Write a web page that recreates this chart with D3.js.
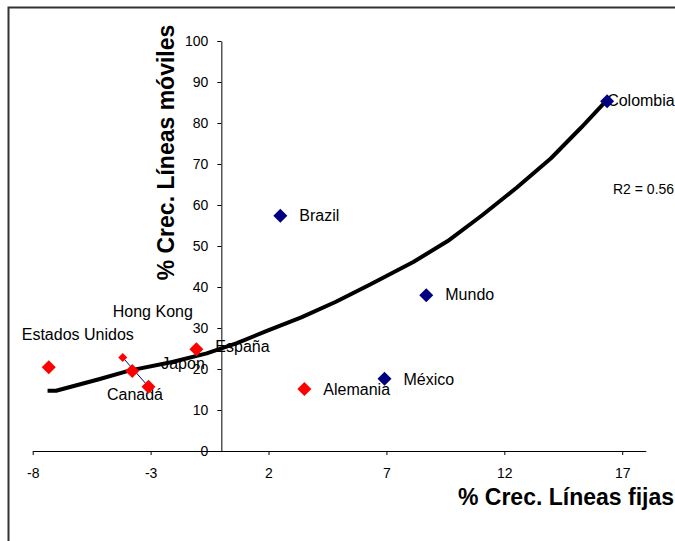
<!DOCTYPE html>
<html>
<head>
<meta charset="utf-8">
<script src="https://cdn.jsdelivr.net/npm/d3@7/dist/d3.min.js"></script>
<style>
  html, body { margin: 0; padding: 0; background: #fff; }
  svg { display: block; font-family: "Liberation Sans", Arial, sans-serif; }
</style>
</head>
<body>
<svg id="chart" width="675" height="541"></svg>
<script>
// ---- Data ----
const countries    = ["Estados Unidos", "Hong Kong", "Japon", "Canadá", "España", "Alemania", "Brazil", "México", "Mundo", "Colombia"];
const fixedGrowth  = [-7.32, -4.18, -3.78, -3.09, -1.06, 3.52, 2.50, 6.92, 8.69, 16.36];
const mobileGrowth = [20.4, 22.8, 19.5, 15.7, 24.8, 15.1, 57.4, 17.6, 38.0, 85.3];
const groups       = ["des", "des", "des", "des", "des", "des", "emer", "emer", "emer", "emer"];

// trend line
const trendX = [-7.37, -7.01, -5.19, -3.91, -2.08, -0.62, 0.66, 1.93, 3.39, 4.86, 6.31, 8.14, 9.60, 11.06, 12.52, 13.98, 15.26, 16.30];
const trendY = [14.7, 14.7, 17.5, 19.6, 21.7, 23.8, 26.3, 29.3, 32.6, 36.4, 40.6, 46.1, 51.2, 57.5, 64.2, 71.4, 78.9, 85.3];

const xTicks = [-8, -3, 2, 7, 12, 17];
const yTicks = [0, 10, 20, 30, 40, 50, 60, 70, 80, 90, 100];
const r2Text = "R2 = 0.56";

// ---- Layout (label offsets from marker, px) ----
const labelDX = [-27, -10, 29, -41.5, 19, 19, 19, 19, 19, 0];
const labelDY = [-27.5, -40.5, -2, 13.5, 3, 6, 5, 6, 5, 5];

const svg = d3.select("#chart");
const x = d3.scaleLinear().domain([-8, 18]).range([32.7, 645.8]);
const y = d3.scaleLinear().domain([0, 100]).range([451, 41]);
const color = d3.scaleOrdinal().domain(["des", "emer"]).range(["#ff0000", "#000080"]);

// frame
svg.append("path")
  .attr("d", "M8.5,541 L8.5,7.5 L675,7.5")
  .attr("fill", "none").attr("stroke", "#333").attr("stroke-width", 2);

// x axis
const xAxis = svg.append("g")
  .attr("transform", `translate(0,${y(0)})`)
  .call(d3.axisBottom(x).tickValues(xTicks).tickSize(4).tickSizeOuter(0).tickFormat(d => String(d)));
xAxis.attr("font-size", null).attr("font-family", null);
xAxis.select(".domain").attr("stroke", "#000");
xAxis.selectAll(".tick line").attr("stroke", "#000");
xAxis.selectAll(".tick text").attr("font-size", 14)
  .attr("fill", "#000").attr("dy", 0).attr("y", 27);

// y axis
const yAxis = svg.append("g")
  .attr("transform", `translate(${x(0)},0)`)
  .call(d3.axisLeft(y).tickValues(yTicks).tickSize(4).tickSizeOuter(0));
yAxis.attr("font-size", null).attr("font-family", null);
yAxis.select(".domain").attr("stroke", "#000");
yAxis.selectAll(".tick line").attr("stroke", "#000");
yAxis.selectAll(".tick text").attr("font-size", 14)
  .attr("fill", "#000").attr("x", -13);

// axis titles
svg.append("text")
  .attr("transform", "translate(174,152.5) rotate(-90)")
  .attr("text-anchor", "middle")
  .attr("font-size", 23).attr("font-weight", "bold")
  .text("% Crec. Líneas móviles");
svg.append("text")
  .attr("x", 674).attr("y", 505)
  .attr("text-anchor", "end")
  .attr("font-size", 23).attr("font-weight", "bold")
  .text("% Crec. Líneas fijas");

const idx = d3.range(countries.length);

// leader line Hong Kong -> Canadá
const iHK = countries.indexOf("Hong Kong"), iCA = countries.indexOf("Canadá");
svg.append("line")
  .attr("x1", x(fixedGrowth[iHK])).attr("y1", y(mobileGrowth[iHK]))
  .attr("x2", x(fixedGrowth[iCA])).attr("y2", y(mobileGrowth[iCA]))
  .attr("stroke", "#000080").attr("stroke-width", 1);

// labels
svg.append("g").selectAll("text").data(idx).join("text")
  .attr("x", i => x(fixedGrowth[i]) + labelDX[i])
  .attr("y", i => y(mobileGrowth[i]) + labelDY[i])
  .attr("font-size", 16).attr("fill", "#000")
  .text(i => countries[i]);

// trend line
const line = d3.line().x(d => x(d[0])).y(d => y(d[1])).curve(d3.curveLinear);
svg.append("path")
  .datum(trendX.map((v, i) => [v, trendY[i]]))
  .attr("d", line)
  .attr("fill", "none").attr("stroke", "#000").attr("stroke-width", 4)
  .attr("stroke-linejoin", "round");

// markers
svg.append("g").selectAll("path").data(idx).join("path")
  .attr("transform", i => `translate(${x(fixedGrowth[i])},${y(mobileGrowth[i])})`)
  .attr("d", i => {
    const r = countries[i] === "Hong Kong" ? 4.5 : 7;
    return `M0,${-r}L${r},0L0,${r}L${-r},0Z`;
  })
  .attr("fill", i => color(groups[i]));

// R2
svg.append("text").attr("x", 613).attr("y", 194).attr("font-size", 14).text(r2Text);
</script>
</body>
</html>
